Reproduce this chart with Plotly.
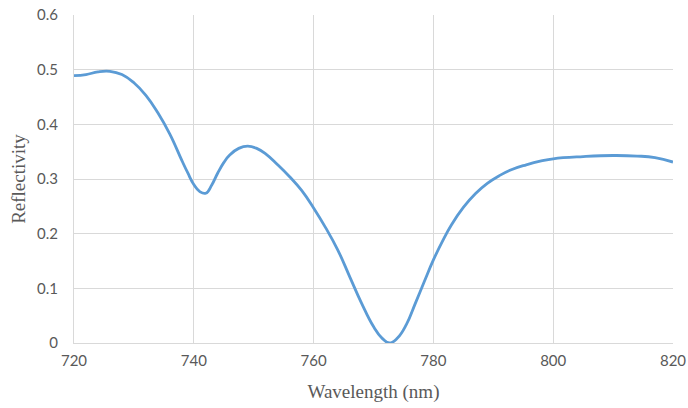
import plotly.graph_objects as go

wavelength = [720, 722, 724, 726, 728, 730, 732, 734, 736, 738, 739, 740, 741, 742, 743,
              744, 745, 746, 747.5, 749, 750.5, 752, 754, 756, 758, 760, 762, 764, 766,
              768, 770, 771.5, 772.7, 774, 775.5, 777, 778.5, 780, 781.5, 783, 785, 787,
              789, 791, 793, 795.5, 798, 800, 805, 810, 814, 817, 820]
reflectivity = [0.489, 0.491, 0.496, 0.497, 0.491, 0.476, 0.453, 0.421, 0.382, 0.334, 0.311,
                0.290, 0.277, 0.274, 0.289, 0.311, 0.330, 0.344, 0.356, 0.360, 0.356, 0.346,
                0.326, 0.304, 0.279, 0.247, 0.211, 0.171, 0.122, 0.073, 0.030, 0.008, 0.000,
                0.009, 0.034, 0.073, 0.113, 0.152, 0.186, 0.216, 0.248, 0.273, 0.292, 0.306,
                0.317, 0.326, 0.333, 0.337, 0.341, 0.343, 0.342, 0.339, 0.331]

x_ticks = [720, 740, 760, 780, 800, 820]
x_tick_labels = ["720", "740", "760", "780", "800", "820"]
y_ticks = [0, 0.1, 0.2, 0.3, 0.4, 0.5, 0.6]
y_tick_labels = ["0", "0.1", "0.2", "0.3", "0.4", "0.5", "0.6"]

fig = go.Figure(go.Scatter(
    x=wavelength, y=reflectivity, mode="lines",
    line=dict(color="#5b9bd5", width=2.8, shape="spline", smoothing=1.3),
    hoverinfo="skip"))

tick_font = dict(family="Lato, Carlito, sans-serif", size=15, color="#595959")
title_font = dict(family="Liberation Serif, Times New Roman, serif", size=19, color="#595959")

fig.update_layout(
    width=688, height=408,
    margin=dict(l=74, r=15, t=15, b=65, autoexpand=False),
    paper_bgcolor="white", plot_bgcolor="white",
    showlegend=False,
    xaxis=dict(range=[720, 820], tickvals=x_ticks, ticktext=x_tick_labels,
               showgrid=True, gridcolor="#d9d9d9", gridwidth=1, automargin=False,
               showline=True, linecolor="#d9d9d9", linewidth=1, zeroline=False,
               ticks="", tickfont=tick_font, ticklabelstandoff=4,
               title=dict(text="Wavelength (nm)", font=title_font, standoff=16)),
    yaxis=dict(range=[0, 0.6], tickvals=y_ticks, ticktext=y_tick_labels,
               showgrid=True, gridcolor="#d9d9d9", gridwidth=1, automargin=False,
               showline=True, linecolor="#d9d9d9", linewidth=1, zeroline=False,
               ticks="", tickfont=tick_font, ticklabelstandoff=12,
               title=dict(text="Reflectivity", font=title_font, standoff=6)),
)

fig.write_html("out.html", config={"displayModeBar": False},
               post_script="document.body.style.margin='0';document.body.style.overflow='hidden';")
